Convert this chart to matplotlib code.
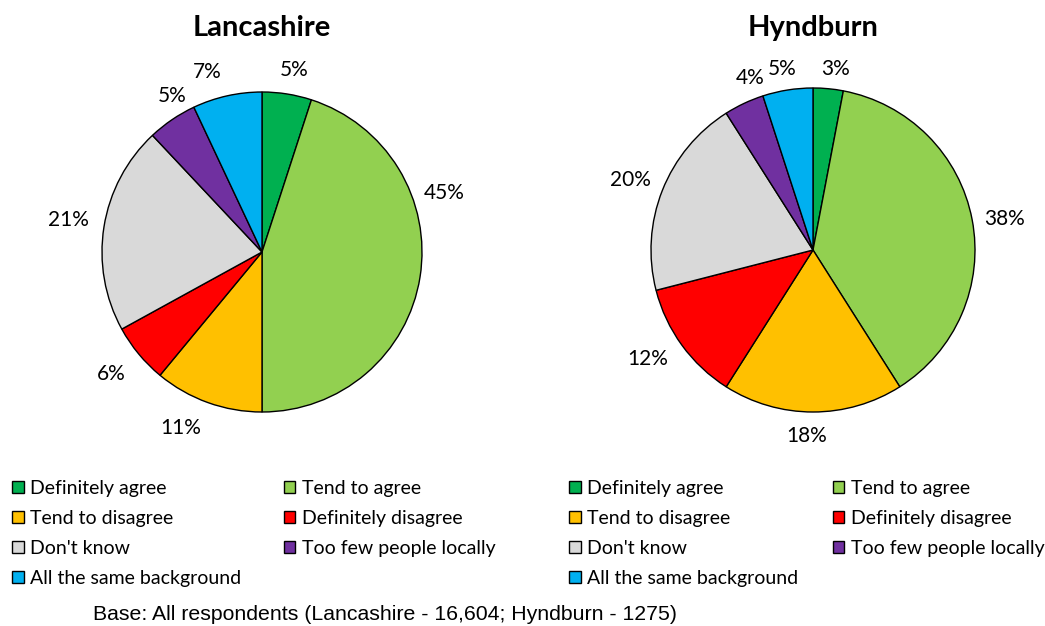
import matplotlib.pyplot as plt

categories = ['Definitely agree', 'Tend to agree', 'Tend to disagree',
              'Definitely disagree', "Don't know", 'Too few people locally',
              'All the same background']
lancashire = [5, 45, 11, 6, 21, 5, 7]
hyndburn = [3, 38, 18, 12, 20, 4, 5]
colors = ['#00B050', '#92D050', '#FFC000', '#FF0000', '#D9D9D9', '#7030A0', '#00B0F0']

# label spots (in units of radius) as placed by excel
lanc_lbl = [(0.2, 1.14), (1.14, 0.37), (-0.51, -1.1), (-0.94, -0.76),
            (-1.21, 0.2), (-0.56, 0.975), (-0.34, 1.125)]
hynd_lbl = [(0.14, 1.12), (1.185, 0.19), (-0.04, -1.15), (-1.02, -0.67),
            (-1.13, 0.43), (-0.385, 1.06), (-0.19, 1.12)]

plt.rcParams['font.family'] = ['Lato', 'DejaVu Sans']

W, H = 1045, 626
fig = plt.figure(figsize=(W / 100, H / 100), dpi=100)


def pie_panel(cx, cy, r, vals, lbls, title, leg_x, colsp):
    lim = 1.3
    s = 2 * lim * r
    ax = fig.add_axes([(cx - s / 2) / W, (H - cy - s / 2) / H, s / W, s / H])
    wedges, _ = ax.pie(vals, colors=colors, startangle=90, counterclock=False,
                       wedgeprops=dict(edgecolor='black', linewidth=1.0))
    for v, (x, y) in zip(vals, lbls):
        ax.text(x, y, f'{v}%', ha='center', va='center', fontsize=15)
    ax.set_xlim(-lim, lim)
    ax.set_ylim(-lim, lim)
    ax.set_aspect('equal')
    ax.axis('off')
    fig.text(cx / W, 1 - 28 / H, title, ha='center', va='center',
             fontsize=21, fontweight='bold')
    order = [0, 2, 4, 6, 1, 3, 5]
    fig.legend([wedges[i] for i in order], [categories[i] for i in order],
               ncol=2, loc='upper left', bbox_to_anchor=(leg_x / W, 1 - 480 / H),
               frameon=False, fontsize=14, handlelength=0.6, handleheight=0.6,
               handletextpad=0.35, columnspacing=colsp, labelspacing=0.67,
               borderpad=0, borderaxespad=0)


pie_panel(262, 252, 160, lancashire, lanc_lbl, 'Lancashire', 12, 2.17)
pie_panel(813, 250, 162, hyndburn, hynd_lbl, 'Hyndburn', 569, 1.75)

fig.text(93 / W, 1 - 615 / H,
         'Base: All respondents (Lancashire - 16,604; Hyndburn - 1275)',
         ha='left', va='center', fontsize=15.3, family='Liberation Sans')

fig.savefig('out.png', dpi=100)
